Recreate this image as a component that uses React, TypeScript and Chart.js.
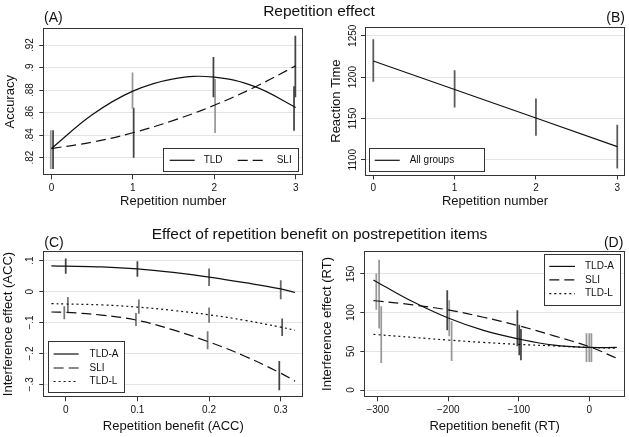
import React, { useEffect, useRef } from 'react';
import { Chart, registerables } from 'chart.js';
Chart.register(...registerables);

const FONT = '"Liberation Sans", Arial, sans-serif';
const DARK = '#444444';
const GRAY = '#999999';
const LINE = '#111111';

// ---------- Panel A: Accuracy by repetition number ----------
const repX = [0, 0.5, 1, 1.5, 2, 2.5, 3];
const accTLD = [0.828, 0.858, 0.879, 0.89, 0.8915, 0.883, 0.8645];
const accSLI = [0.828, 0.8337, 0.842, 0.853, 0.8665, 0.8827, 0.9015];
const accCiTLDx = [-0.008, 0.996, 1.99, 2.98];
const accCiTLDlo = [0.81, 0.8636, 0.874, 0.844];
const accCiTLDhi = [0.844, 0.8954, 0.909, 0.883];
const accCiTLDcol = [GRAY, GRAY, DARK, DARK];
const accCiSLIx = [0.02, 1.01, 2.01, 2.996];
const accCiSLIlo = [0.81, 0.82, 0.842, 0.874];
const accCiSLIhi = [0.844, 0.864, 0.8895, 0.928];
const accCiSLIcol = [DARK, DARK, GRAY, DARK];
const accYTicks = [0.82, 0.84, 0.86, 0.88, 0.9, 0.92];
const accYLabels = ['.82', '.84', '.86', '.88', '.9', '.92'];
const repTicks = [0, 1, 2, 3];
const repLabels = ['0', '1', '2', '3'];

// ---------- Panel B: Reaction time by repetition number ----------
const rtX = [0, 1, 2, 3];
const rtAll = [1219.5, 1185, 1150.5, 1116];
const rtCiLo = [1194.7, 1163.7, 1129.4, 1090];
const rtCiHi = [1245.5, 1208, 1173.8, 1142];
const rtCiCol = ['#5a5a5a', '#5a5a5a', '#5a5a5a', '#5a5a5a'];
const rtYTicks = [1100, 1150, 1200, 1250];
const rtYLabels = ['1100', '1150', '1200', '1250'];

// ---------- Panel C: interference (ACC) vs repetition benefit (ACC) ----------
const accBenX = [-0.02, 0, 0.05, 0.1, 0.15, 0.2, 0.25, 0.3, 0.32];
const ieAccTLDA = [0.083, 0.0825, 0.08, 0.0735, 0.062, 0.047, 0.029, 0.009, -0.003];
const ieAccSLI = [-0.066, -0.067, -0.076, -0.093, -0.124, -0.163, -0.209, -0.264, -0.29];
const ieAccTLDL = [-0.039, -0.04, -0.043, -0.05, -0.061, -0.075, -0.093, -0.115, -0.125];
const cTLDAx = [0, 0.1, 0.2, 0.3];
const cTLDAlo = [0.0592, 0.0495, 0.0194, -0.0236];
const cTLDAhi = [0.1058, 0.097, 0.0735, 0.0356];
const cTLDAcol = [DARK, DARK, '#666666', '#666666'];
const cTLDLx = [0.003, 0.102, 0.2, 0.302];
const cTLDLlo = [-0.0647, -0.0702, -0.0994, -0.1424];
const cTLDLhi = [-0.0184, -0.0269, -0.0528, -0.0884];
const cTLDLcol = ['#777777', '#777777', '#777777', '#555555'];
const cSLIx = [-0.002, 0.098, 0.198, 0.298];
const cSLIlo = [-0.0884, -0.11, -0.1854, -0.318];
const cSLIhi = [-0.0485, -0.0702, -0.1294, -0.2256];
const cSLIcol = ['#777777', '#777777', '#777777', DARK];
const cYTicks = [-0.3, -0.2, -0.1, 0, 0.1];
const cYLabels = ['\u2212.3', '\u2212.2', '\u2212.1', '0', '.1'];
const cXTicks = [0, 0.1, 0.2, 0.3];
const cXLabels = ['0', '0.1', '0.2', '0.3'];

// ---------- Panel D: interference (RT) vs repetition benefit (RT) ----------
const rtBenX = [-306, -300, -250, -200, -150, -100, -50, 0, 39];
const ieRtTLDA = [142, 139, 114, 93, 77, 66, 58, 55, 55];
const ieRtSLI = [115.5, 115, 110, 103.5, 94, 83, 70, 56, 41];
const ieRtTLDL = [72, 71.5, 68, 64.5, 61.5, 59, 57, 55, 54];
const dTLDAx = [-298, -198.6, -99.3, -4];
const dTLDAlo = [80, 69.8, 45.3, 36.5];
const dTLDAhi = [168, 115.5, 84, 73];
const dTLDAcol = [GRAY, GRAY, DARK, GRAY];
const dSLIx = [-302, -201.4, -102, 0];
const dSLIlo = [104, 77.6, 56.9, 36.5];
const dSLIhi = [150, 128.4, 102.5, 73];
const dSLIcol = [GRAY, DARK, DARK, GRAY];
const dTLDLx = [-295, -195.2, -96.9, 3];
const dTLDLlo = [35.3, 37.9, 38.8, 36.5];
const dTLDLhi = [107.7, 88.3, 78.5, 73];
const dTLDLcol = [GRAY, GRAY, DARK, GRAY];
const dYTicks = [0, 50, 100, 150];
const dYLabels = ['0', '50', '100', '150'];
const dXTicks = [-300, -200, -100, 0];
const dXLabels = ['\u2212300', '\u2212200', '\u2212100', '0'];

const SOLID: number[] = [];
const DASH = [10, 5];
const DOT = [2, 3];

const TICK_SIZE = 10;
const TITLE_SIZE = 13;
const TL = 4;

function textWidth(t: string, size: number) {
  const ctx = document.createElement('canvas').getContext('2d')!;
  ctx.font = `${size}px ${FONT}`;
  return ctx.measureText(t).width;
}

function lineDs(xs: number[], ys: number[], dash: number[]) {
  return {
    type: 'line',
    data: xs.map((x, i) => ({ x, y: ys[i] })),
    borderColor: LINE,
    borderWidth: 1.2,
    borderDash: dash,
    pointRadius: 0,
    tension: 0.4,
    fill: false,
    order: 0,
  };
}

function ciDs(xs: number[], lo: number[], hi: number[], colors: string[]) {
  return {
    type: 'bar',
    data: xs.map((x, i) => ({ x, y: [lo[i], hi[i]] })),
    backgroundColor: colors,
    borderWidth: 0,
    barThickness: 1.1,
    grouped: false,
    order: 1,
  };
}

type Geo = { w: number; h: number; L: number; T: number; R: number; B: number; yLabOff: number; yTitleX: number; xLabOff: number; xTitleY: number };
type LegendItem = { label: string; dash: number[]; x0: number; x1: number; tx: number; y: number };
type LegendSpec = { corner: string; ix: number; iy: number; w: number; h: number; items: LegendItem[] };
type Spec = {
  geo: Geo;
  xMin: number; xMax: number; yMin: number; yMax: number;
  xTicks: number[]; xLabels: string[]; yTicks: number[]; yLabels: string[];
  xTitle: string; yTitle: string;
  datasets: any[];
  legend: LegendSpec;
};

function buildConfig(spec: Spec): any {
  const g = spec.geo;
  const lh = TITLE_SIZE * 1.2;
  const xAxisH = g.xTitleY - g.B + lh / 2;
  const widest = Math.max(...spec.yLabels.map((t) => textWidth(t, TICK_SIZE)));
  const yPad = g.yLabOff - TL - widest / 2;
  const xPad = g.xLabOff - TL - (TICK_SIZE * 1.2) / 2;
  const lg = spec.legend;

  const framePlugin = {
    id: 'frameAndLegend',
    afterDraw(chart: any) {
      const { ctx, chartArea: a } = chart;
      ctx.save();
      ctx.strokeStyle = '#333';
      ctx.lineWidth = 1;
      ctx.setLineDash([]);
      const l = Math.round(a.left) + 0.5, t = Math.round(a.top) + 0.5;
      const r = Math.round(a.right) - 0.5, b = Math.round(a.bottom) - 0.5;
      ctx.strokeRect(l, t, r - l, b - t);

      const bx = Math.round(lg.corner.includes('r') ? a.right - lg.ix - lg.w : a.left + lg.ix);
      const by = Math.round(lg.corner.includes('b') ? a.bottom - lg.iy - lg.h : a.top + lg.iy);
      ctx.fillStyle = '#fff';
      ctx.fillRect(bx, by, lg.w, lg.h);
      ctx.strokeStyle = '#333';
      ctx.strokeRect(bx + 0.5, by + 0.5, Math.round(lg.w) - 1, Math.round(lg.h) - 1);
      ctx.font = `${TICK_SIZE}px ${FONT}`;
      ctx.textBaseline = 'middle';
      ctx.textAlign = 'left';
      for (const it of lg.items) {
        ctx.strokeStyle = LINE;
        ctx.lineWidth = 1.2;
        ctx.setLineDash(it.dash);
        ctx.beginPath();
        ctx.moveTo(bx + it.x0, by + it.y);
        ctx.lineTo(bx + it.x1, by + it.y);
        ctx.stroke();
        ctx.setLineDash([]);
        ctx.fillStyle = '#111';
        ctx.fillText(it.label, bx + it.tx, by + it.y);
      }
      ctx.restore();
    },
  };

  const tickFont = { family: FONT, size: TICK_SIZE };
  const titleFont = { family: FONT, size: TITLE_SIZE };

  return {
    type: 'line',
    data: { datasets: spec.datasets },
    options: {
      responsive: false,
      animation: false,
      events: [],
      layout: { padding: { left: 0, top: g.T, right: g.w - g.R, bottom: g.h - g.B - xAxisH } },
      plugins: { legend: { display: false }, tooltip: { enabled: false }, title: { display: false } },
      scales: {
        x: {
          type: 'linear',
          min: spec.xMin,
          max: spec.xMax,
          offset: false,
          afterBuildTicks: (s: any) => { s.ticks = spec.xTicks.map((v) => ({ value: v })); },
          afterFit: (s: any) => { s.height = xAxisH; },
          ticks: {
            autoSkip: false, minRotation: 0, maxRotation: 0, padding: xPad, font: tickFont, color: '#111',
            callback: (_v: any, i: number) => spec.xLabels[i],
          },
          grid: { offset: false, drawOnChartArea: false, drawTicks: true, tickLength: TL, tickColor: '#333', tickWidth: 1 },
          border: { display: false },
          title: { display: true, text: spec.xTitle, font: titleFont, color: '#111', padding: { top: 0, bottom: 0 } },
        },
        y: {
          type: 'linear',
          min: spec.yMin,
          max: spec.yMax,
          afterBuildTicks: (s: any) => { s.ticks = spec.yTicks.map((v) => ({ value: v })); },
          afterFit: (s: any) => { s.width = g.L; },
          ticks: {
            autoSkip: false, minRotation: 90, maxRotation: 90, crossAlign: 'center', padding: yPad, font: tickFont, color: '#111',
            callback: (_v: any, i: number) => spec.yLabels[i],
          },
          grid: { offset: false, color: '#e4e4e4', lineWidth: 1, drawTicks: true, tickLength: TL, tickColor: '#333', tickWidth: 1 },
          border: { display: false },
          title: { display: true, text: spec.yTitle, font: titleFont, color: '#111', padding: { top: g.yTitleX - lh / 2, bottom: 0 } },
        },
      },
    },
    plugins: [framePlugin],
  };
}

const specA: Spec = {
  geo: { w: 315, h: 218, L: 43.3, T: 28.3, R: 303, B: 175.3, yLabOff: 13.3, yTitleX: 10, xLabOff: 12.8, xTitleY: 201.7 },
  xMin: -0.1, xMax: 3.09, yMin: 0.8042, yMax: 0.9349,
  xTicks: repTicks, xLabels: repLabels, yTicks: accYTicks, yLabels: accYLabels,
  xTitle: 'Repetition number', yTitle: 'Accuracy',
  datasets: [
    lineDs(repX, accTLD, SOLID),
    lineDs(repX, accSLI, DASH),
    ciDs(accCiTLDx, accCiTLDlo, accCiTLDhi, accCiTLDcol),
    ciDs(accCiSLIx, accCiSLIlo, accCiSLIhi, accCiSLIcol),
  ],
  legend: {
    corner: 'br', ix: 3.7, iy: 3.3, w: 136, h: 24,
    items: [
      { label: 'TLD', dash: SOLID, x0: 6.7, x1: 31.7, tx: 40.7, y: 12.3 },
      { label: 'SLI', dash: DASH, x0: 74.7, x1: 101.7, tx: 113.7, y: 12.3 },
    ],
  },
};

const specB: Spec = {
  geo: { w: 314, h: 218, L: 50, T: 26.7, R: 310, B: 175.5, yLabOff: 11.7, yTitleX: 21.7, xLabOff: 12.8, xTitleY: 201.7 },
  xMin: -0.102, xMax: 3.095, yMin: 1081, yMax: 1261,
  xTicks: repTicks, xLabels: repLabels, yTicks: rtYTicks, yLabels: rtYLabels,
  xTitle: 'Repetition number', yTitle: 'Reaction Time',
  datasets: [
    { ...lineDs(rtX, rtAll, SOLID), tension: 0 },
    ciDs(rtX, rtCiLo, rtCiHi, rtCiCol),
  ],
  legend: {
    corner: 'bl', ix: 4.3, iy: 4, w: 116, h: 24,
    items: [{ label: 'All groups', dash: SOLID, x0: 5.7, x1: 30.7, tx: 40.7, y: 12.3 }],
  },
};

const specC: Spec = {
  geo: { w: 315, h: 219, L: 43.3, T: 32.7, R: 303.3, B: 179.3, yLabOff: 12.6, yTitleX: 8.3, xLabOff: 13.2, xTitleY: 208.7 },
  xMin: -0.0313, xMax: 0.3315, yMin: -0.342, yMax: 0.1324,
  xTicks: cXTicks, xLabels: cXLabels, yTicks: cYTicks, yLabels: cYLabels,
  xTitle: 'Repetition benefit (ACC)', yTitle: 'Interference effect (ACC)',
  datasets: [
    lineDs(accBenX, ieAccTLDA, SOLID),
    lineDs(accBenX, ieAccSLI, DASH),
    lineDs(accBenX, ieAccTLDL, DOT),
    ciDs(cTLDAx, cTLDAlo, cTLDAhi, cTLDAcol),
    ciDs(cTLDLx, cTLDLlo, cTLDLhi, cTLDLcol),
    ciDs(cSLIx, cSLIlo, cSLIhi, cSLIcol),
  ],
  legend: {
    corner: 'bl', ix: 4.4, iy: 4, w: 77, h: 52,
    items: [
      { label: 'TLD-A', dash: SOLID, x0: 5.6, x1: 30.6, tx: 41.6, y: 13 },
      { label: 'SLI', dash: DASH, x0: 5.6, x1: 30.6, tx: 41.6, y: 27 },
      { label: 'TLD-L', dash: DOT, x0: 5.6, x1: 30.6, tx: 41.6, y: 40.5 },
    ],
  },
};

const specD: Spec = {
  geo: { w: 314, h: 219, L: 49.3, T: 32.7, R: 310, B: 179.3, yLabOff: 12.6, yTitleX: 12.3, xLabOff: 13.2, xTitleY: 208.7 },
  xMin: -319, xMax: 50.6, yMin: -9.4, yMax: 180,
  xTicks: dXTicks, xLabels: dXLabels, yTicks: dYTicks, yLabels: dYLabels,
  xTitle: 'Repetition benefit (RT)', yTitle: 'Interference effect (RT)',
  datasets: [
    lineDs(rtBenX, ieRtTLDA, SOLID),
    lineDs(rtBenX, ieRtSLI, DASH),
    lineDs(rtBenX, ieRtTLDL, DOT),
    ciDs(dTLDAx, dTLDAlo, dTLDAhi, dTLDAcol),
    ciDs(dSLIx, dSLIlo, dSLIhi, dSLIcol),
    ciDs(dTLDLx, dTLDLlo, dTLDLhi, dTLDLcol),
  ],
  legend: {
    corner: 'tr', ix: 4.3, iy: 3.6, w: 77, h: 52,
    items: [
      { label: 'TLD-A', dash: SOLID, x0: 5.3, x1: 31, tx: 41, y: 12.4 },
      { label: 'SLI', dash: DASH, x0: 5.3, x1: 31, tx: 41, y: 25.9 },
      { label: 'TLD-L', dash: DOT, x0: 5.3, x1: 31, tx: 41, y: 39.7 },
    ],
  },
};

function Panel({ spec, left, top }: { spec: Spec; left: number; top: number }) {
  const ref = useRef<HTMLCanvasElement>(null);
  useEffect(() => {
    const chart = new Chart(ref.current as HTMLCanvasElement, buildConfig(spec));
    return () => chart.destroy();
  }, [spec]);
  return (
    <canvas
      ref={ref}
      width={spec.geo.w}
      height={spec.geo.h}
      style={{ position: 'absolute', left, top, width: spec.geo.w, height: spec.geo.h }}
    />
  );
}

const textBase: React.CSSProperties = {
  position: 'absolute',
  fontFamily: FONT,
  color: '#111',
  lineHeight: 1,
  whiteSpace: 'nowrap',
};

export default function App() {
  return (
    <div style={{ position: 'absolute', left: 0, top: 0, width: 629, height: 437, background: '#fff', overflow: 'hidden' }}>
      <Panel spec={specA} left={0} top={0} />
      <Panel spec={specB} left={315} top={0} />
      <Panel spec={specC} left={0} top={218} />
      <Panel spec={specD} left={315} top={218} />
      <div style={{ ...textBase, fontSize: 15.5, left: 319, top: 3, transform: 'translateX(-50%)' }}>Repetition effect</div>
      <div style={{ ...textBase, fontSize: 15.5, left: 319.5, top: 226.2, transform: 'translateX(-50%)' }}>
        Effect of repetition benefit on postrepetition items
      </div>
      <div style={{ ...textBase, fontSize: 14, left: 44, top: 10 }}>(A)</div>
      <div style={{ ...textBase, fontSize: 14, right: 4, top: 10 }}>(B)</div>
      <div style={{ ...textBase, fontSize: 14, left: 44.3, top: 234.8 }}>(C)</div>
      <div style={{ ...textBase, fontSize: 14, right: 5.7, top: 234.8 }}>(D)</div>
    </div>
  );
}
